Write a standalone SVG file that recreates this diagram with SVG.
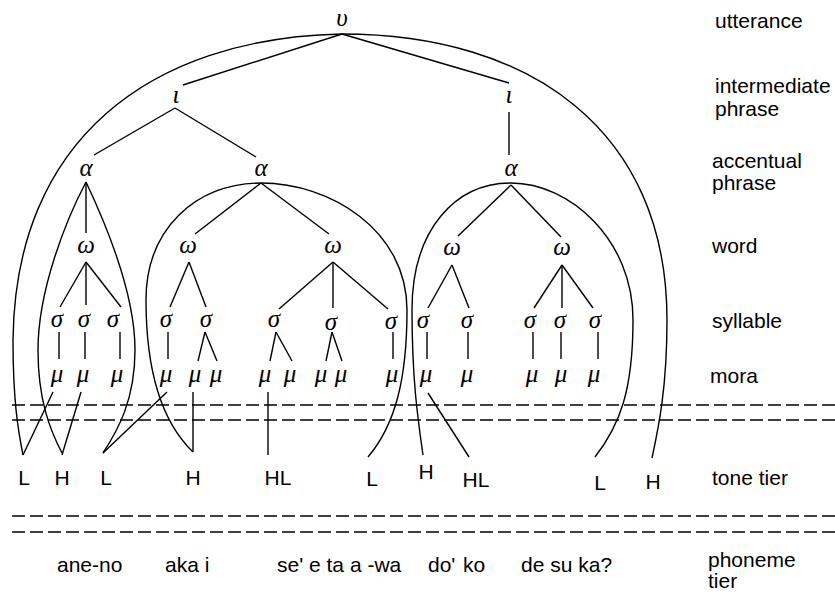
<svg xmlns="http://www.w3.org/2000/svg" width="835" height="592" viewBox="0 0 835 592">
  <style>
    .g { font-family: "Liberation Serif", "DejaVu Serif", serif; font-style: italic; font-size: 25px; text-anchor: middle; fill: #000; }
    .t { font-family: "Liberation Sans", Arial, sans-serif; font-size: 21px; fill: #000; }
    .tc { font-family: "Liberation Sans", Arial, sans-serif; font-size: 21px; fill: #000; text-anchor: middle; }
    .e { stroke: #000; stroke-width: 1.4; fill: none; }
    .d { stroke: #000; stroke-width: 1.4; fill: none; stroke-dasharray: 13 5; }
  </style>
  <rect width="835" height="592" fill="#fff"/>

  <!-- tier separators -->
  <g id="tiers">
    <line class="d" x1="12" y1="405" x2="835" y2="405"/>
    <line class="d" x1="12" y1="420" x2="835" y2="420"/>
    <line class="d" x1="12" y1="516" x2="835" y2="516"/>
    <line class="d" x1="12" y1="532" x2="835" y2="532"/>
  </g>

  <!-- connectors: tree edges, domain arcs and tone associations -->
  <g id="connectors">
    <!-- utterance -->
    <line class="e" x1="342" y1="34" x2="183" y2="85"/>
    <line class="e" x1="342" y1="34" x2="509" y2="83"/>
    <path class="e" d="M342,34 C150,38 15,140 13,340 C13,400 18,430 23,455"/>
    <path class="e" d="M342,34 C530,34 667,130 667,320 C667,390 658,430 652,458"/>
    <!-- intermediate phrases -->
    <line class="e" x1="175" y1="108" x2="94" y2="155"/>
    <line class="e" x1="175" y1="108" x2="256" y2="157"/>
    <line class="e" x1="509" y1="112" x2="509" y2="155"/>
    <!-- accentual phrase 1 -->
    <line class="e" x1="86" y1="182" x2="86" y2="233"/>
    <path class="e" d="M86,182 C66,220 38,290 38,350 C38,400 50,430 62,453"/>
    <path class="e" d="M86,182 C103,218 135,290 135,350 C135,400 118,430 103,453"/>
    <!-- accentual phrase 2 -->
    <line class="e" x1="261" y1="183" x2="195" y2="234"/>
    <line class="e" x1="261" y1="183" x2="329" y2="234"/>
    <path class="e" d="M261,183 C195,183 146,230 146,300 C146,380 165,425 193,452"/>
    <path class="e" d="M261,183 C330,183 407,230 407,310 C407,380 395,425 368,457"/>
    <!-- accentual phrase 3 -->
    <line class="e" x1="511" y1="185" x2="458" y2="236"/>
    <line class="e" x1="511" y1="185" x2="561" y2="237"/>
    <path class="e" d="M511,183 C455,183 412,230 412,310 C412,380 418,420 423,455"/>
    <path class="e" d="M511,183 C570,183 633,240 633,320 C633,390 620,425 595,457"/>
    <!-- words to syllables -->
    <line class="e" x1="86" y1="262" x2="60" y2="307"/>
    <line class="e" x1="86" y1="262" x2="86" y2="305"/>
    <line class="e" x1="86" y1="262" x2="121" y2="307"/>
    <line class="e" x1="189" y1="262" x2="170" y2="307"/>
    <line class="e" x1="189" y1="262" x2="206" y2="307"/>
    <line class="e" x1="333" y1="262" x2="279" y2="309"/>
    <line class="e" x1="333" y1="262" x2="333" y2="308"/>
    <line class="e" x1="333" y1="262" x2="388" y2="309"/>
    <line class="e" x1="452" y1="265" x2="428" y2="308"/>
    <line class="e" x1="452" y1="265" x2="469" y2="308"/>
    <line class="e" x1="562" y1="265" x2="534" y2="308"/>
    <line class="e" x1="562" y1="265" x2="562" y2="308"/>
    <line class="e" x1="562" y1="265" x2="593" y2="308"/>
    <!-- syllables to morae -->
    <line class="e" x1="59" y1="332" x2="59" y2="359"/>
    <line class="e" x1="85" y1="332" x2="85" y2="359"/>
    <line class="e" x1="120" y1="332" x2="120" y2="359"/>
    <line class="e" x1="168" y1="332" x2="168" y2="359"/>
    <line class="e" x1="205" y1="332" x2="198" y2="361"/>
    <line class="e" x1="205" y1="332" x2="217" y2="361"/>
    <line class="e" x1="276" y1="332" x2="270" y2="361"/>
    <line class="e" x1="276" y1="332" x2="292" y2="361"/>
    <line class="e" x1="332" y1="332" x2="326" y2="361"/>
    <line class="e" x1="332" y1="332" x2="342" y2="361"/>
    <line class="e" x1="393" y1="332" x2="393" y2="359"/>
    <line class="e" x1="427" y1="332" x2="427" y2="359"/>
    <line class="e" x1="468" y1="332" x2="468" y2="359"/>
    <line class="e" x1="533" y1="332" x2="533" y2="359"/>
    <line class="e" x1="561" y1="332" x2="561" y2="359"/>
    <line class="e" x1="598" y1="332" x2="598" y2="359"/>
    <!-- morae to tones -->
    <line class="e" x1="53" y1="392" x2="23" y2="455"/>
    <line class="e" x1="81" y1="392" x2="62" y2="455"/>
    <line class="e" x1="167" y1="392" x2="103" y2="453"/>
    <line class="e" x1="193" y1="392" x2="193" y2="452"/>
    <line class="e" x1="268" y1="392" x2="268" y2="455"/>
    <line class="e" x1="428" y1="393" x2="469" y2="457"/>
  </g>

  <!-- prosodic nodes -->
  <g id="utterance"><text class="g" x="342" y="26">υ</text></g>
  <g id="iphrase-1"><text class="g" x="176" y="103">ι</text></g>
  <g id="iphrase-2"><text class="g" x="509" y="103">ι</text></g>
  <g id="aphrase-1"><text class="g" x="86" y="176">α</text></g>
  <g id="aphrase-2"><text class="g" x="261" y="176">α</text></g>
  <g id="aphrase-3"><text class="g" x="511" y="176">α</text></g>
  <g id="word-1"><text class="g" x="86" y="253">ω</text></g>
  <g id="word-2"><text class="g" x="188" y="253">ω</text></g>
  <g id="word-3"><text class="g" x="333" y="253">ω</text></g>
  <g id="word-4"><text class="g" x="452" y="255">ω</text></g>
  <g id="word-5"><text class="g" x="562" y="255">ω</text></g>

  <g id="syllables">
    <text class="g" x="57" y="327">σ</text>
    <text class="g" x="84" y="327">σ</text>
    <text class="g" x="113" y="327">σ</text>
    <text class="g" x="166" y="327">σ</text>
    <text class="g" x="206" y="327">σ</text>
    <text class="g" x="274" y="327">σ</text>
    <text class="g" x="331" y="330">σ</text>
    <text class="g" x="391" y="329">σ</text>
    <text class="g" x="423" y="328">σ</text>
    <text class="g" x="467" y="328">σ</text>
    <text class="g" x="530" y="328">σ</text>
    <text class="g" x="560" y="328">σ</text>
    <text class="g" x="595" y="328">σ</text>
  </g>

  <g id="morae">
    <text class="g" x="57" y="382">μ</text>
    <text class="g" x="83" y="382">μ</text>
    <text class="g" x="117" y="382">μ</text>
    <text class="g" x="166" y="382">μ</text>
    <text class="g" x="195" y="382">μ</text>
    <text class="g" x="216" y="382">μ</text>
    <text class="g" x="265" y="382">μ</text>
    <text class="g" x="290" y="382">μ</text>
    <text class="g" x="321" y="382">μ</text>
    <text class="g" x="341" y="382">μ</text>
    <text class="g" x="392" y="382">μ</text>
    <text class="g" x="426" y="382">μ</text>
    <text class="g" x="467" y="382">μ</text>
    <text class="g" x="532" y="382">μ</text>
    <text class="g" x="561" y="382">μ</text>
    <text class="g" x="594" y="382">μ</text>
  </g>

  <g id="tones">
    <text class="tc" x="24" y="485">L</text>
    <text class="tc" x="62" y="485">H</text>
    <text class="tc" x="106" y="485">L</text>
    <text class="tc" x="193" y="485">H</text>
    <text class="tc" x="278" y="485">HL</text>
    <text class="tc" x="372" y="486">L</text>
    <text class="tc" x="426" y="479">H</text>
    <text class="tc" x="476" y="487">HL</text>
    <text class="tc" x="600" y="490">L</text>
    <text class="tc" x="653" y="489">H</text>
  </g>

  <g id="phonemes">
    <text class="t" x="57" y="572">ane-no</text>
    <text class="t" x="165" y="572">aka i</text>
    <text class="t" x="277" y="572">se' e ta a -wa</text>
    <text class="t" x="428" y="572">do'</text>
    <text class="t" x="463" y="572">ko</text>
    <text class="t" x="521" y="572">de su ka?</text>
  </g>

  <!-- tier names -->
  <g id="tier-labels">
    <text class="t" x="715" y="28">utterance</text>
    <text class="t" x="715" y="93">intermediate</text>
    <text class="t" x="715" y="116">phrase</text>
    <text class="t" x="712" y="168">accentual</text>
    <text class="t" x="712" y="190">phrase</text>
    <text class="t" x="712" y="253">word</text>
    <text class="t" x="712" y="328">syllable</text>
    <text class="t" x="710" y="383">mora</text>
    <text class="t" x="712" y="485">tone tier</text>
    <text class="t" x="708" y="567">phoneme</text>
    <text class="t" x="708" y="588">tier</text>
  </g>
</svg>
